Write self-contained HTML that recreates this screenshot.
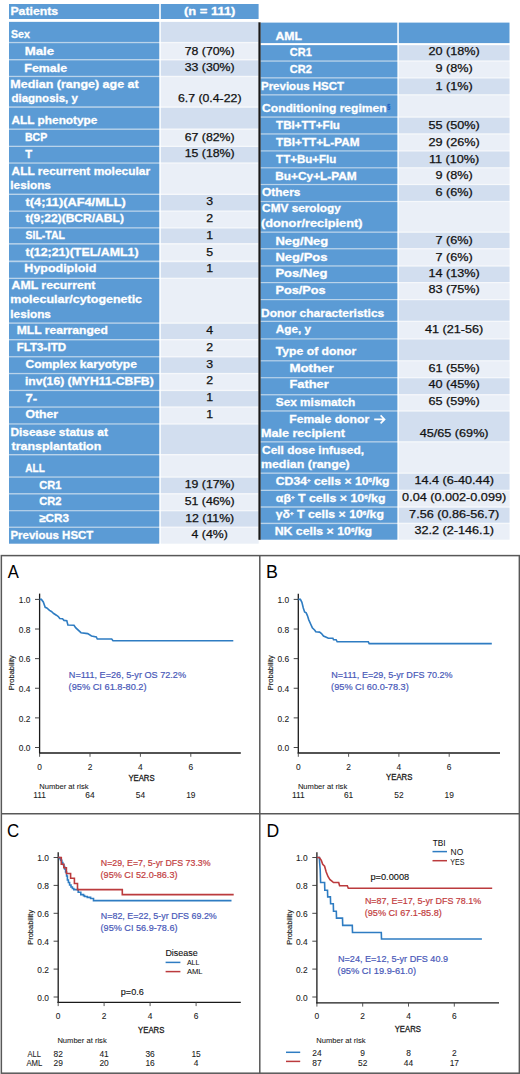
<!DOCTYPE html>
<html><head><meta charset="utf-8"><title>Table and Kaplan-Meier curves</title>
<style>html,body{margin:0;padding:0;background:#fff;}svg{display:block;}text{font-family:"Liberation Sans",sans-serif;}</style>
</head><body>
<svg width="520" height="1074" viewBox="0 0 520 1074">
<rect x="0" y="0" width="520" height="1074" fill="#fff"/>
<rect x="9" y="21.9" width="150.2" height="521.7" fill="#B9D3EA"/>
<rect x="160.8" y="21.9" width="97.8" height="521.7" fill="#F6F8FB"/>
<rect x="9" y="4" width="150.2" height="15" fill="#5B9BD5"/>
<rect x="160.8" y="4" width="97.8" height="15" fill="#5B9BD5"/>
<text x="10.4" y="14.9" font-size="11.2" font-weight="bold" fill="#fff" stroke="#fff" stroke-width="0.3" textLength="47.78" lengthAdjust="spacingAndGlyphs">Patients</text>
<text x="183.95" y="14.9" font-size="11.2" font-weight="bold" fill="#fff" stroke="#fff" stroke-width="0.3" textLength="51.5" lengthAdjust="spacingAndGlyphs">(n = 111)</text>
<rect x="9" y="21.9" width="150.2" height="20.0" fill="#5B9BD5"/>
<rect x="160.8" y="21.9" width="97.8" height="20.0" fill="#D2DEEF"/>
<text x="10.9" y="37.9" font-size="11.2" font-weight="bold" fill="#fff" stroke="#fff" stroke-width="0.3" textLength="18.91" lengthAdjust="spacingAndGlyphs">Sex</text>
<rect x="9" y="43.2" width="150.2" height="15.8" fill="#5B9BD5"/>
<rect x="160.8" y="43.2" width="97.8" height="15.8" fill="#EAEFF7"/>
<text x="24.67" y="54.6" font-size="11.2" font-weight="bold" fill="#fff" stroke="#fff" stroke-width="0.3" textLength="29.38" lengthAdjust="spacingAndGlyphs">Male</text>
<text x="184.75" y="54.5" font-size="11.0" fill="#111" stroke="#111" stroke-width="0.25" textLength="49.91" lengthAdjust="spacingAndGlyphs">78 (70%)</text>
<rect x="9" y="60.4" width="150.2" height="15.4" fill="#5B9BD5"/>
<rect x="160.8" y="60.4" width="97.8" height="15.4" fill="#D2DEEF"/>
<text x="24.39" y="71.5" font-size="11.2" font-weight="bold" fill="#fff" stroke="#fff" stroke-width="0.3" textLength="42.73" lengthAdjust="spacingAndGlyphs">Female</text>
<text x="184.75" y="71.1" font-size="11.0" fill="#111" stroke="#111" stroke-width="0.25" textLength="49.91" lengthAdjust="spacingAndGlyphs">33 (30%)</text>
<rect x="9" y="77.1" width="150.2" height="29.2" fill="#5B9BD5"/>
<rect x="160.8" y="77.1" width="97.8" height="29.2" fill="#EAEFF7"/>
<text x="10.38" y="87.6" font-size="11.2" font-weight="bold" fill="#fff" stroke="#fff" stroke-width="0.3" textLength="128.33" lengthAdjust="spacingAndGlyphs">Median (range) age at</text>
<text x="11.5" y="101.6" font-size="11.2" font-weight="bold" fill="#fff" stroke="#fff" stroke-width="0.3" textLength="66.35" lengthAdjust="spacingAndGlyphs">diagnosis, y</text>
<text x="177.91" y="101.6" font-size="11.0" fill="#111" stroke="#111" stroke-width="0.25" textLength="63.59" lengthAdjust="spacingAndGlyphs">6.7 (0.4-22)</text>
<rect x="9" y="107.8" width="150.2" height="20.7" fill="#5B9BD5"/>
<rect x="160.8" y="107.8" width="97.8" height="20.7" fill="#D2DEEF"/>
<text x="11.5" y="123.6" font-size="11.2" font-weight="bold" fill="#fff" stroke="#fff" stroke-width="0.3" textLength="85.93" lengthAdjust="spacingAndGlyphs">ALL phenotype</text>
<rect x="9" y="129.9" width="150.2" height="15.8" fill="#5B9BD5"/>
<rect x="160.8" y="129.9" width="97.8" height="15.8" fill="#EAEFF7"/>
<text x="24.96" y="140.8" font-size="11.2" font-weight="bold" fill="#fff" stroke="#fff" stroke-width="0.3" textLength="22.29" lengthAdjust="spacingAndGlyphs">BCP</text>
<text x="184.75" y="140.7" font-size="11.0" fill="#111" stroke="#111" stroke-width="0.25" textLength="49.91" lengthAdjust="spacingAndGlyphs">67 (82%)</text>
<rect x="9" y="147.0" width="150.2" height="15.4" fill="#5B9BD5"/>
<rect x="160.8" y="147.0" width="97.8" height="15.4" fill="#D2DEEF"/>
<text x="25.2" y="157.7" font-size="11.2" font-weight="bold" fill="#fff" stroke="#fff" stroke-width="0.3" textLength="6.94" lengthAdjust="spacingAndGlyphs">T</text>
<text x="184.75" y="157.4" font-size="11.0" fill="#111" stroke="#111" stroke-width="0.25" textLength="49.91" lengthAdjust="spacingAndGlyphs">15 (18%)</text>
<rect x="9" y="163.7" width="150.2" height="29.9" fill="#5B9BD5"/>
<rect x="160.8" y="163.7" width="97.8" height="29.9" fill="#EAEFF7"/>
<text x="11.5" y="174.5" font-size="11.2" font-weight="bold" fill="#fff" stroke="#fff" stroke-width="0.3" textLength="138.62" lengthAdjust="spacingAndGlyphs">ALL recurrent molecular</text>
<text x="10.35" y="188.6" font-size="11.2" font-weight="bold" fill="#fff" stroke="#fff" stroke-width="0.3" textLength="40.54" lengthAdjust="spacingAndGlyphs">lesions</text>
<rect x="9" y="195.0" width="150.2" height="15.5" fill="#5B9BD5"/>
<rect x="160.8" y="195.0" width="97.8" height="15.5" fill="#D2DEEF"/>
<text x="25.5" y="205.8" font-size="11.2" font-weight="bold" fill="#fff" stroke="#fff" stroke-width="0.3" textLength="100.23" lengthAdjust="spacingAndGlyphs">t(4;11)(AF4/MLL)</text>
<text x="206.28" y="205.4" font-size="11.0" fill="#111" stroke="#111" stroke-width="0.25" textLength="6.85" lengthAdjust="spacingAndGlyphs">3</text>
<rect x="9" y="211.8" width="150.2" height="15.4" fill="#5B9BD5"/>
<rect x="160.8" y="211.8" width="97.8" height="15.4" fill="#EAEFF7"/>
<text x="25.5" y="222.0" font-size="11.2" font-weight="bold" fill="#fff" stroke="#fff" stroke-width="0.3" textLength="98.39" lengthAdjust="spacingAndGlyphs">t(9;22)(BCR/ABL)</text>
<text x="206.28" y="221.6" font-size="11.0" fill="#111" stroke="#111" stroke-width="0.25" textLength="6.85" lengthAdjust="spacingAndGlyphs">2</text>
<rect x="9" y="228.5" width="150.2" height="14.6" fill="#5B9BD5"/>
<rect x="160.8" y="228.5" width="97.8" height="14.6" fill="#D2DEEF"/>
<text x="25.5" y="239.2" font-size="11.2" font-weight="bold" fill="#fff" stroke="#fff" stroke-width="0.3" textLength="39.54" lengthAdjust="spacingAndGlyphs">SIL-TAL</text>
<text x="206.28" y="238.8" font-size="11.0" fill="#111" stroke="#111" stroke-width="0.25" textLength="6.85" lengthAdjust="spacingAndGlyphs">1</text>
<rect x="9" y="244.6" width="150.2" height="15.9" fill="#5B9BD5"/>
<rect x="160.8" y="244.6" width="97.8" height="15.9" fill="#EAEFF7"/>
<text x="25.5" y="256.1" font-size="11.2" font-weight="bold" fill="#fff" stroke="#fff" stroke-width="0.3" textLength="113.13" lengthAdjust="spacingAndGlyphs">t(12;21)(TEL/AML1)</text>
<text x="206.28" y="255.7" font-size="11.0" fill="#111" stroke="#111" stroke-width="0.25" textLength="6.85" lengthAdjust="spacingAndGlyphs">5</text>
<rect x="9" y="262.2" width="150.2" height="15.5" fill="#5B9BD5"/>
<rect x="160.8" y="262.2" width="97.8" height="15.5" fill="#D2DEEF"/>
<text x="24.39" y="272.3" font-size="11.2" font-weight="bold" fill="#fff" stroke="#fff" stroke-width="0.3" textLength="72.03" lengthAdjust="spacingAndGlyphs">Hypodiploid</text>
<text x="206.28" y="271.9" font-size="11.0" fill="#111" stroke="#111" stroke-width="0.25" textLength="6.85" lengthAdjust="spacingAndGlyphs">1</text>
<rect x="9" y="279.0" width="150.2" height="43.4" fill="#5B9BD5"/>
<rect x="160.8" y="279.0" width="97.8" height="43.4" fill="#EAEFF7"/>
<text x="11.5" y="289.0" font-size="11.2" font-weight="bold" fill="#fff" stroke="#fff" stroke-width="0.3" textLength="83.89" lengthAdjust="spacingAndGlyphs">AML recurrent</text>
<text x="10.39" y="303.1" font-size="11.2" font-weight="bold" fill="#fff" stroke="#fff" stroke-width="0.3" textLength="131.67" lengthAdjust="spacingAndGlyphs">molecular/cytogenetic</text>
<text x="10.35" y="317.5" font-size="11.2" font-weight="bold" fill="#fff" stroke="#fff" stroke-width="0.3" textLength="40.54" lengthAdjust="spacingAndGlyphs">lesions</text>
<rect x="9" y="323.8" width="150.2" height="15.2" fill="#5B9BD5"/>
<rect x="160.8" y="323.8" width="97.8" height="15.2" fill="#D2DEEF"/>
<text x="16.72" y="334.0" font-size="11.2" font-weight="bold" fill="#fff" stroke="#fff" stroke-width="0.3" textLength="91.25" lengthAdjust="spacingAndGlyphs">MLL rearranged</text>
<text x="206.28" y="333.6" font-size="11.0" fill="#111" stroke="#111" stroke-width="0.25" textLength="6.85" lengthAdjust="spacingAndGlyphs">4</text>
<rect x="9" y="340.4" width="150.2" height="15.7" fill="#5B9BD5"/>
<rect x="160.8" y="340.4" width="97.8" height="15.7" fill="#EAEFF7"/>
<text x="16.77" y="350.9" font-size="11.2" font-weight="bold" fill="#fff" stroke="#fff" stroke-width="0.3" textLength="49.3" lengthAdjust="spacingAndGlyphs">FLT3-ITD</text>
<text x="206.28" y="350.5" font-size="11.0" fill="#111" stroke="#111" stroke-width="0.25" textLength="6.85" lengthAdjust="spacingAndGlyphs">2</text>
<rect x="9" y="357.4" width="150.2" height="15.5" fill="#5B9BD5"/>
<rect x="160.8" y="357.4" width="97.8" height="15.5" fill="#D2DEEF"/>
<text x="25.5" y="367.9" font-size="11.2" font-weight="bold" fill="#fff" stroke="#fff" stroke-width="0.3" textLength="111.44" lengthAdjust="spacingAndGlyphs">Complex karyotype</text>
<text x="206.28" y="367.5" font-size="11.0" fill="#111" stroke="#111" stroke-width="0.25" textLength="6.85" lengthAdjust="spacingAndGlyphs">3</text>
<rect x="9" y="374.2" width="150.2" height="15.6" fill="#5B9BD5"/>
<rect x="160.8" y="374.2" width="97.8" height="15.6" fill="#EAEFF7"/>
<text x="24.91" y="384.7" font-size="11.2" font-weight="bold" fill="#fff" stroke="#fff" stroke-width="0.3" textLength="128.81" lengthAdjust="spacingAndGlyphs">inv(16) (MYH11-CBFB)</text>
<text x="206.28" y="384.3" font-size="11.0" fill="#111" stroke="#111" stroke-width="0.25" textLength="6.85" lengthAdjust="spacingAndGlyphs">2</text>
<rect x="9" y="391.1" width="150.2" height="15.3" fill="#5B9BD5"/>
<rect x="160.8" y="391.1" width="97.8" height="15.3" fill="#D2DEEF"/>
<text x="25.5" y="401.6" font-size="11.2" font-weight="bold" fill="#fff" stroke="#fff" stroke-width="0.3" textLength="11.65" lengthAdjust="spacingAndGlyphs">7-</text>
<text x="206.28" y="401.2" font-size="11.0" fill="#111" stroke="#111" stroke-width="0.25" textLength="6.85" lengthAdjust="spacingAndGlyphs">1</text>
<rect x="9" y="407.7" width="150.2" height="15.6" fill="#5B9BD5"/>
<rect x="160.8" y="407.7" width="97.8" height="15.6" fill="#EAEFF7"/>
<text x="25.5" y="418.3" font-size="11.2" font-weight="bold" fill="#fff" stroke="#fff" stroke-width="0.3" textLength="32.63" lengthAdjust="spacingAndGlyphs">Other</text>
<text x="206.28" y="417.9" font-size="11.0" fill="#111" stroke="#111" stroke-width="0.25" textLength="6.85" lengthAdjust="spacingAndGlyphs">1</text>
<rect x="9" y="424.6" width="150.2" height="29.4" fill="#5B9BD5"/>
<rect x="160.8" y="424.6" width="97.8" height="29.4" fill="#D2DEEF"/>
<text x="10.43" y="435.6" font-size="11.2" font-weight="bold" fill="#fff" stroke="#fff" stroke-width="0.3" textLength="97.45" lengthAdjust="spacingAndGlyphs">Disease status at</text>
<text x="11.5" y="449.6" font-size="11.2" font-weight="bold" fill="#fff" stroke="#fff" stroke-width="0.3" textLength="89.8" lengthAdjust="spacingAndGlyphs">transplantation</text>
<rect x="9" y="455.4" width="150.2" height="21.0" fill="#5B9BD5"/>
<rect x="160.8" y="455.4" width="97.8" height="21.0" fill="#EAEFF7"/>
<text x="25.3" y="471.6" font-size="11.2" font-weight="bold" fill="#fff" stroke="#fff" stroke-width="0.3" textLength="19.48" lengthAdjust="spacingAndGlyphs">ALL</text>
<rect x="9" y="477.7" width="150.2" height="15.4" fill="#5B9BD5"/>
<rect x="160.8" y="477.7" width="97.8" height="15.4" fill="#D2DEEF"/>
<text x="39.2" y="488.5" font-size="11.2" font-weight="bold" fill="#fff" stroke="#fff" stroke-width="0.3" textLength="22.29" lengthAdjust="spacingAndGlyphs">CR1</text>
<text x="184.75" y="488.1" font-size="11.0" fill="#111" stroke="#111" stroke-width="0.25" textLength="49.91" lengthAdjust="spacingAndGlyphs">19 (17%)</text>
<rect x="9" y="494.5" width="150.2" height="15.6" fill="#5B9BD5"/>
<rect x="160.8" y="494.5" width="97.8" height="15.6" fill="#EAEFF7"/>
<text x="39.2" y="505.3" font-size="11.2" font-weight="bold" fill="#fff" stroke="#fff" stroke-width="0.3" textLength="22.29" lengthAdjust="spacingAndGlyphs">CR2</text>
<text x="184.75" y="504.9" font-size="11.0" fill="#111" stroke="#111" stroke-width="0.25" textLength="49.91" lengthAdjust="spacingAndGlyphs">51 (46%)</text>
<rect x="9" y="511.3" width="150.2" height="15.3" fill="#5B9BD5"/>
<rect x="160.8" y="511.3" width="97.8" height="15.3" fill="#D2DEEF"/>
<text x="39.2" y="522.2" font-size="11.2" font-weight="bold" fill="#fff" stroke="#fff" stroke-width="0.3" textLength="29.86" lengthAdjust="spacingAndGlyphs">≥CR3</text>
<text x="185.2" y="521.8" font-size="11.0" fill="#111" stroke="#111" stroke-width="0.25" textLength="49.0" lengthAdjust="spacingAndGlyphs">12 (11%)</text>
<rect x="9" y="527.9" width="150.2" height="15.7" fill="#5B9BD5"/>
<rect x="160.8" y="527.9" width="97.8" height="15.7" fill="#EAEFF7"/>
<text x="10.48" y="538.8" font-size="11.2" font-weight="bold" fill="#fff" stroke="#fff" stroke-width="0.3" textLength="82.85" lengthAdjust="spacingAndGlyphs">Previous HSCT</text>
<text x="191.59" y="538.4" font-size="11.0" fill="#111" stroke="#111" stroke-width="0.25" textLength="36.23" lengthAdjust="spacingAndGlyphs">4 (4%)</text>
<rect x="260.5" y="45.2" width="136.8" height="494.4" fill="#B9D3EA"/>
<rect x="398.8" y="45.2" width="110.7" height="494.4" fill="#F6F8FB"/>
<rect x="260.5" y="22.6" width="136.8" height="20.5" fill="#5B9BD5"/>
<rect x="398.8" y="22.6" width="110.7" height="20.5" fill="#5B9BD5"/>
<text x="275.5" y="39.8" font-size="11.2" font-weight="bold" fill="#fff" stroke="#fff" stroke-width="0.3" textLength="26.46" lengthAdjust="spacingAndGlyphs">AML</text>
<rect x="260.5" y="45.2" width="136.8" height="15.2" fill="#5B9BD5"/>
<rect x="398.8" y="45.2" width="110.7" height="15.2" fill="#D2DEEF"/>
<text x="289.8" y="55.6" font-size="11.2" font-weight="bold" fill="#fff" stroke="#fff" stroke-width="0.3" textLength="21.98" lengthAdjust="spacingAndGlyphs">CR1</text>
<text x="428.48" y="55.4" font-size="11.0" fill="#111" stroke="#111" stroke-width="0.25" textLength="51.34" lengthAdjust="spacingAndGlyphs">20 (18%)</text>
<rect x="260.5" y="61.7" width="136.8" height="15.5" fill="#5B9BD5"/>
<rect x="398.8" y="61.7" width="110.7" height="15.5" fill="#EAEFF7"/>
<text x="289.8" y="72.5" font-size="11.2" font-weight="bold" fill="#fff" stroke="#fff" stroke-width="0.3" textLength="21.98" lengthAdjust="spacingAndGlyphs">CR2</text>
<text x="435.51" y="72.4" font-size="11.0" fill="#111" stroke="#111" stroke-width="0.25" textLength="37.27" lengthAdjust="spacingAndGlyphs">9 (8%)</text>
<rect x="260.5" y="78.5" width="136.8" height="15.7" fill="#5B9BD5"/>
<rect x="398.8" y="78.5" width="110.7" height="15.7" fill="#D2DEEF"/>
<text x="260.97" y="90.0" font-size="11.2" font-weight="bold" fill="#fff" stroke="#fff" stroke-width="0.3" textLength="83.15" lengthAdjust="spacingAndGlyphs">Previous HSCT</text>
<text x="435.51" y="89.8" font-size="11.0" fill="#111" stroke="#111" stroke-width="0.25" textLength="37.27" lengthAdjust="spacingAndGlyphs">1 (1%)</text>
<rect x="260.5" y="95.5" width="136.8" height="20.9" fill="#5B9BD5"/>
<rect x="398.8" y="95.5" width="110.7" height="20.9" fill="#EAEFF7"/>
<text x="262.1" y="112.3" font-size="11.2" font-weight="bold" fill="#fff" stroke="#fff" stroke-width="0.3" textLength="124.46" lengthAdjust="spacingAndGlyphs">Conditioning regimen</text>
<rect x="260.5" y="117.7" width="136.8" height="15.6" fill="#5B9BD5"/>
<rect x="398.8" y="117.7" width="110.7" height="15.6" fill="#D2DEEF"/>
<text x="276.1" y="128.8" font-size="11.2" font-weight="bold" fill="#fff" stroke="#fff" stroke-width="0.3" textLength="63.85" lengthAdjust="spacingAndGlyphs">TBI+TT+Flu</text>
<text x="428.48" y="128.6" font-size="11.0" fill="#111" stroke="#111" stroke-width="0.25" textLength="51.34" lengthAdjust="spacingAndGlyphs">55 (50%)</text>
<rect x="260.5" y="134.6" width="136.8" height="15.7" fill="#5B9BD5"/>
<rect x="398.8" y="134.6" width="110.7" height="15.7" fill="#EAEFF7"/>
<text x="276.1" y="145.9" font-size="11.2" font-weight="bold" fill="#fff" stroke="#fff" stroke-width="0.3" textLength="83.38" lengthAdjust="spacingAndGlyphs">TBI+TT+L-PAM</text>
<text x="428.48" y="145.7" font-size="11.0" fill="#111" stroke="#111" stroke-width="0.25" textLength="51.34" lengthAdjust="spacingAndGlyphs">29 (26%)</text>
<rect x="260.5" y="151.5" width="136.8" height="15.7" fill="#5B9BD5"/>
<rect x="398.8" y="151.5" width="110.7" height="15.7" fill="#D2DEEF"/>
<text x="276.1" y="162.8" font-size="11.2" font-weight="bold" fill="#fff" stroke="#fff" stroke-width="0.3" textLength="60.25" lengthAdjust="spacingAndGlyphs">TT+Bu+Flu</text>
<text x="428.95" y="162.6" font-size="11.0" fill="#111" stroke="#111" stroke-width="0.25" textLength="50.4" lengthAdjust="spacingAndGlyphs">11 (10%)</text>
<rect x="260.5" y="168.4" width="136.8" height="15.5" fill="#5B9BD5"/>
<rect x="398.8" y="168.4" width="110.7" height="15.5" fill="#EAEFF7"/>
<text x="275.24" y="179.7" font-size="11.2" font-weight="bold" fill="#fff" stroke="#fff" stroke-width="0.3" textLength="81.49" lengthAdjust="spacingAndGlyphs">Bu+Cy+L-PAM</text>
<text x="435.51" y="179.3" font-size="11.0" fill="#111" stroke="#111" stroke-width="0.25" textLength="37.27" lengthAdjust="spacingAndGlyphs">9 (8%)</text>
<rect x="260.5" y="185.1" width="136.8" height="15.8" fill="#5B9BD5"/>
<rect x="398.8" y="185.1" width="110.7" height="15.8" fill="#D2DEEF"/>
<text x="262.1" y="196.4" font-size="11.2" font-weight="bold" fill="#fff" stroke="#fff" stroke-width="0.3" textLength="38.27" lengthAdjust="spacingAndGlyphs">Others</text>
<text x="435.51" y="196.0" font-size="11.0" fill="#111" stroke="#111" stroke-width="0.25" textLength="37.27" lengthAdjust="spacingAndGlyphs">6 (6%)</text>
<rect x="260.5" y="202.1" width="136.8" height="29.4" fill="#5B9BD5"/>
<rect x="398.8" y="202.1" width="110.7" height="29.4" fill="#EAEFF7"/>
<text x="262.1" y="212.3" font-size="11.2" font-weight="bold" fill="#fff" stroke="#fff" stroke-width="0.3" textLength="78.79" lengthAdjust="spacingAndGlyphs">CMV serology</text>
<text x="260.96" y="226.9" font-size="11.2" font-weight="bold" fill="#fff" stroke="#fff" stroke-width="0.3" textLength="101.52" lengthAdjust="spacingAndGlyphs">(donor/recipient)</text>
<rect x="260.5" y="232.8" width="136.8" height="15.3" fill="#5B9BD5"/>
<rect x="398.8" y="232.8" width="110.7" height="15.3" fill="#D2DEEF"/>
<text x="275.43" y="244.6" font-size="11.2" font-weight="bold" fill="#fff" stroke="#fff" stroke-width="0.3" textLength="52.92" lengthAdjust="spacingAndGlyphs">Neg/Neg</text>
<text x="435.51" y="244.2" font-size="11.0" fill="#111" stroke="#111" stroke-width="0.25" textLength="37.27" lengthAdjust="spacingAndGlyphs">7 (6%)</text>
<rect x="260.5" y="249.4" width="136.8" height="15.9" fill="#5B9BD5"/>
<rect x="398.8" y="249.4" width="110.7" height="15.9" fill="#EAEFF7"/>
<text x="275.43" y="261.0" font-size="11.2" font-weight="bold" fill="#fff" stroke="#fff" stroke-width="0.3" textLength="52.16" lengthAdjust="spacingAndGlyphs">Neg/Pos</text>
<text x="435.51" y="260.6" font-size="11.0" fill="#111" stroke="#111" stroke-width="0.25" textLength="37.27" lengthAdjust="spacingAndGlyphs">7 (6%)</text>
<rect x="260.5" y="266.6" width="136.8" height="15.4" fill="#5B9BD5"/>
<rect x="398.8" y="266.6" width="110.7" height="15.4" fill="#D2DEEF"/>
<text x="275.43" y="277.4" font-size="11.2" font-weight="bold" fill="#fff" stroke="#fff" stroke-width="0.3" textLength="52.16" lengthAdjust="spacingAndGlyphs">Pos/Neg</text>
<text x="428.48" y="277.0" font-size="11.0" fill="#111" stroke="#111" stroke-width="0.25" textLength="51.34" lengthAdjust="spacingAndGlyphs">14 (13%)</text>
<rect x="260.5" y="283.2" width="136.8" height="15.8" fill="#5B9BD5"/>
<rect x="398.8" y="283.2" width="110.7" height="15.8" fill="#EAEFF7"/>
<text x="275.46" y="293.8" font-size="11.2" font-weight="bold" fill="#fff" stroke="#fff" stroke-width="0.3" textLength="50.21" lengthAdjust="spacingAndGlyphs">Pos/Pos</text>
<text x="428.48" y="293.4" font-size="11.0" fill="#111" stroke="#111" stroke-width="0.25" textLength="51.34" lengthAdjust="spacingAndGlyphs">83 (75%)</text>
<rect x="260.5" y="300.2" width="136.8" height="20.5" fill="#5B9BD5"/>
<rect x="398.8" y="300.2" width="110.7" height="20.5" fill="#D2DEEF"/>
<text x="261.03" y="316.7" font-size="11.2" font-weight="bold" fill="#fff" stroke="#fff" stroke-width="0.3" textLength="123.2" lengthAdjust="spacingAndGlyphs">Donor characteristics</text>
<rect x="260.5" y="322.0" width="136.8" height="16.3" fill="#5B9BD5"/>
<rect x="398.8" y="322.0" width="110.7" height="16.3" fill="#EAEFF7"/>
<text x="275.8" y="333.1" font-size="11.2" font-weight="bold" fill="#fff" stroke="#fff" stroke-width="0.3" textLength="35.31" lengthAdjust="spacingAndGlyphs">Age, y</text>
<text x="424.96" y="332.9" font-size="11.0" fill="#111" stroke="#111" stroke-width="0.25" textLength="58.38" lengthAdjust="spacingAndGlyphs">41 (21-56)</text>
<rect x="260.5" y="339.5" width="136.8" height="20.7" fill="#5B9BD5"/>
<rect x="398.8" y="339.5" width="110.7" height="20.7" fill="#D2DEEF"/>
<text x="275.8" y="355.0" font-size="11.2" font-weight="bold" fill="#fff" stroke="#fff" stroke-width="0.3" textLength="80.33" lengthAdjust="spacingAndGlyphs">Type of donor</text>
<rect x="260.5" y="361.4" width="136.8" height="15.7" fill="#5B9BD5"/>
<rect x="398.8" y="361.4" width="110.7" height="15.7" fill="#EAEFF7"/>
<text x="289.41" y="372.0" font-size="11.2" font-weight="bold" fill="#fff" stroke="#fff" stroke-width="0.3" textLength="44.24" lengthAdjust="spacingAndGlyphs">Mother</text>
<text x="428.48" y="371.6" font-size="11.0" fill="#111" stroke="#111" stroke-width="0.25" textLength="51.34" lengthAdjust="spacingAndGlyphs">61 (55%)</text>
<rect x="260.5" y="378.3" width="136.8" height="15.8" fill="#5B9BD5"/>
<rect x="398.8" y="378.3" width="110.7" height="15.8" fill="#D2DEEF"/>
<text x="289.45" y="388.4" font-size="11.2" font-weight="bold" fill="#fff" stroke="#fff" stroke-width="0.3" textLength="39.28" lengthAdjust="spacingAndGlyphs">Father</text>
<text x="428.48" y="388.0" font-size="11.0" fill="#111" stroke="#111" stroke-width="0.25" textLength="51.34" lengthAdjust="spacingAndGlyphs">40 (45%)</text>
<rect x="260.5" y="395.4" width="136.8" height="14.9" fill="#5B9BD5"/>
<rect x="398.8" y="395.4" width="110.7" height="14.9" fill="#EAEFF7"/>
<text x="275.8" y="405.5" font-size="11.2" font-weight="bold" fill="#fff" stroke="#fff" stroke-width="0.3" textLength="79.46" lengthAdjust="spacingAndGlyphs">Sex mismatch</text>
<text x="428.48" y="405.1" font-size="11.0" fill="#111" stroke="#111" stroke-width="0.25" textLength="51.34" lengthAdjust="spacingAndGlyphs">65 (59%)</text>
<rect x="260.5" y="411.6" width="136.8" height="29.6" fill="#5B9BD5"/>
<rect x="398.8" y="411.6" width="110.7" height="29.6" fill="#D2DEEF"/>
<text x="289.31" y="423.2" font-size="11.2" font-weight="bold" fill="#fff" stroke="#fff" stroke-width="0.3" textLength="79.88" lengthAdjust="spacingAndGlyphs">Female donor</text>
<text x="260.97" y="437.4" font-size="11.2" font-weight="bold" fill="#fff" stroke="#fff" stroke-width="0.3" textLength="83.99" lengthAdjust="spacingAndGlyphs">Male recipient</text>
<text x="419.68" y="437.0" font-size="11.0" fill="#111" stroke="#111" stroke-width="0.25" textLength="68.93" lengthAdjust="spacingAndGlyphs">45/65 (69%)</text>
<rect x="260.5" y="442.5" width="136.8" height="30.0" fill="#5B9BD5"/>
<rect x="398.8" y="442.5" width="110.7" height="30.0" fill="#EAEFF7"/>
<text x="262.1" y="453.8" font-size="11.2" font-weight="bold" fill="#fff" stroke="#fff" stroke-width="0.3" textLength="101.88" lengthAdjust="spacingAndGlyphs">Cell dose infused,</text>
<text x="260.99" y="467.7" font-size="11.2" font-weight="bold" fill="#fff" stroke="#fff" stroke-width="0.3" textLength="88.73" lengthAdjust="spacingAndGlyphs">median (range)</text>
<rect x="260.5" y="473.8" width="136.8" height="15.9" fill="#5B9BD5"/>
<rect x="398.8" y="473.8" width="110.7" height="15.9" fill="#D2DEEF"/>
<text x="275.8" y="484.6" font-size="11.2" font-weight="bold" fill="#fff" stroke="#fff" stroke-width="0.3" textLength="113.71" lengthAdjust="spacingAndGlyphs">CD34<tspan font-size="5.6" dy="-3.0">+</tspan><tspan dy="3.0"> cells × 10</tspan><tspan font-size="5.6" dy="-3.0">6</tspan><tspan dy="3.0">/kg</tspan></text>
<text x="414.41" y="484.4" font-size="11.0" fill="#111" stroke="#111" stroke-width="0.25" textLength="79.48" lengthAdjust="spacingAndGlyphs">14.4 (6-40.44)</text>
<rect x="260.5" y="491.0" width="136.8" height="15.3" fill="#5B9BD5"/>
<rect x="398.8" y="491.0" width="110.7" height="15.3" fill="#EAEFF7"/>
<text x="275.8" y="501.6" font-size="11.2" font-weight="bold" fill="#fff" stroke="#fff" stroke-width="0.3" textLength="109.68" lengthAdjust="spacingAndGlyphs">αβ<tspan font-size="5.6" dy="-3.0">+</tspan><tspan dy="3.0"> T cells × 10</tspan><tspan font-size="5.6" dy="-3.0">6</tspan><tspan dy="3.0">/kg</tspan></text>
<text x="402.1" y="501.3" font-size="11.0" fill="#111" stroke="#111" stroke-width="0.25" textLength="104.09" lengthAdjust="spacingAndGlyphs">0.04 (0.002-0.099)</text>
<rect x="260.5" y="507.7" width="136.8" height="15.0" fill="#5B9BD5"/>
<rect x="398.8" y="507.7" width="110.7" height="15.0" fill="#D2DEEF"/>
<text x="275.8" y="518.2" font-size="11.2" font-weight="bold" fill="#fff" stroke="#fff" stroke-width="0.3" textLength="108.1" lengthAdjust="spacingAndGlyphs">γδ<tspan font-size="5.6" dy="-3.0">+</tspan><tspan dy="3.0"> T cells × 10</tspan><tspan font-size="5.6" dy="-3.0">6</tspan><tspan dy="3.0">/kg</tspan></text>
<text x="409.14" y="517.9" font-size="11.0" fill="#111" stroke="#111" stroke-width="0.25" textLength="90.02" lengthAdjust="spacingAndGlyphs">7.56 (0.86-56.7)</text>
<rect x="260.5" y="524.1" width="136.8" height="15.5" fill="#5B9BD5"/>
<rect x="398.8" y="524.1" width="110.7" height="15.5" fill="#EAEFF7"/>
<text x="274.7" y="534.6" font-size="11.2" font-weight="bold" fill="#fff" stroke="#fff" stroke-width="0.3" textLength="97.4" lengthAdjust="spacingAndGlyphs">NK cells × 10<tspan font-size="5.6" dy="-3.0">6</tspan><tspan dy="3.0">/kg</tspan></text>
<text x="414.41" y="534.3" font-size="11.0" fill="#111" stroke="#111" stroke-width="0.25" textLength="79.48" lengthAdjust="spacingAndGlyphs">32.2 (2-146.1)</text>
<text x="387.0" y="108.8" font-size="8" fill="#2563C4" stroke="#2563C4" stroke-width="0.4" textLength="3.4" lengthAdjust="spacingAndGlyphs">§</text>
<rect x="258.4" y="22.3" width="2.2" height="517.5" fill="#1a1a1a"/>
<path d="M374.2 419.4 H384.6 M380.6 415.4 L384.6 419.4 L380.6 423.4" fill="none" stroke="#fff" stroke-width="1.6"/>
<rect x="1.35" y="555.6" width="518.0" height="517.6" fill="none" stroke="#585858" stroke-width="1.5"/>
<line x1="259.8" y1="555.6" x2="259.8" y2="1073.2" stroke="#585858" stroke-width="1.5"/>
<line x1="1.35" y1="813.7" x2="519.35" y2="813.7" stroke="#585858" stroke-width="1.5"/>
<line x1="39.6" y1="593.6" x2="39.6" y2="753.6" stroke="#1a1a1a" stroke-width="1.3"/>
<line x1="39.0" y1="753.0" x2="240.8" y2="753.0" stroke="#1a1a1a" stroke-width="1.3"/>
<line x1="35.0" y1="599.4" x2="39.6" y2="599.4" stroke="#333" stroke-width="0.9"/>
<text x="30.4" y="603.1" font-size="8.4" font-weight="normal" fill="#1a1a1a" text-anchor="end"  stroke="#1a1a1a" stroke-width="0.08">1.0</text>
<line x1="35.0" y1="629.02" x2="39.6" y2="629.02" stroke="#333" stroke-width="0.9"/>
<text x="30.4" y="632.72" font-size="8.4" font-weight="normal" fill="#1a1a1a" text-anchor="end"  stroke="#1a1a1a" stroke-width="0.08">0.8</text>
<line x1="35.0" y1="658.64" x2="39.6" y2="658.64" stroke="#333" stroke-width="0.9"/>
<text x="30.4" y="662.34" font-size="8.4" font-weight="normal" fill="#1a1a1a" text-anchor="end"  stroke="#1a1a1a" stroke-width="0.08">0.6</text>
<line x1="35.0" y1="688.26" x2="39.6" y2="688.26" stroke="#333" stroke-width="0.9"/>
<text x="30.4" y="691.96" font-size="8.4" font-weight="normal" fill="#1a1a1a" text-anchor="end"  stroke="#1a1a1a" stroke-width="0.08">0.4</text>
<line x1="35.0" y1="717.88" x2="39.6" y2="717.88" stroke="#333" stroke-width="0.9"/>
<text x="30.4" y="721.58" font-size="8.4" font-weight="normal" fill="#1a1a1a" text-anchor="end"  stroke="#1a1a1a" stroke-width="0.08">0.2</text>
<line x1="35.0" y1="747.5" x2="39.6" y2="747.5" stroke="#333" stroke-width="0.9"/>
<text x="30.4" y="751.2" font-size="8.4" font-weight="normal" fill="#1a1a1a" text-anchor="end"  stroke="#1a1a1a" stroke-width="0.08">0.0</text>
<line x1="39.6" y1="753.0" x2="39.6" y2="756.8" stroke="#444" stroke-width="0.9"/>
<text x="39.6" y="769.7" font-size="8.4" font-weight="normal" fill="#1a1a1a" text-anchor="middle"  stroke="#1a1a1a" stroke-width="0.08">0</text>
<line x1="90.0" y1="753.0" x2="90.0" y2="756.8" stroke="#444" stroke-width="0.9"/>
<text x="90.0" y="769.7" font-size="8.4" font-weight="normal" fill="#1a1a1a" text-anchor="middle"  stroke="#1a1a1a" stroke-width="0.08">2</text>
<line x1="140.4" y1="753.0" x2="140.4" y2="756.8" stroke="#444" stroke-width="0.9"/>
<text x="140.4" y="769.7" font-size="8.4" font-weight="normal" fill="#1a1a1a" text-anchor="middle"  stroke="#1a1a1a" stroke-width="0.08">4</text>
<line x1="190.8" y1="753.0" x2="190.8" y2="756.8" stroke="#444" stroke-width="0.9"/>
<text x="190.8" y="769.7" font-size="8.4" font-weight="normal" fill="#1a1a1a" text-anchor="middle"  stroke="#1a1a1a" stroke-width="0.08">6</text>
<text x="0" y="0" font-size="7.5" fill="#1a1a1a" stroke="#1a1a1a" stroke-width="0.15" text-anchor="middle" transform="translate(14.3,672.7) rotate(-90)">Probability</text>
<text x="141.5" y="781.3" font-size="8.8" font-weight="normal" fill="#1a1a1a" text-anchor="middle" textLength="26.2" lengthAdjust="spacingAndGlyphs" stroke="#1a1a1a" stroke-width="0.3">YEARS</text>
<text x="39.2" y="788.5" font-size="8.0" font-weight="normal" fill="#1a1a1a" text-anchor="start" textLength="49.3" lengthAdjust="spacingAndGlyphs" stroke="#1a1a1a" stroke-width="0.08">Number at risk</text>
<text x="39.6" y="797.6" font-size="8.4" font-weight="normal" fill="#1a1a1a" text-anchor="middle"  stroke="#1a1a1a" stroke-width="0.08">111</text>
<text x="90.0" y="797.6" font-size="8.4" font-weight="normal" fill="#1a1a1a" text-anchor="middle"  stroke="#1a1a1a" stroke-width="0.08">64</text>
<text x="140.4" y="797.6" font-size="8.4" font-weight="normal" fill="#1a1a1a" text-anchor="middle"  stroke="#1a1a1a" stroke-width="0.08">54</text>
<text x="190.8" y="797.6" font-size="8.4" font-weight="normal" fill="#1a1a1a" text-anchor="middle"  stroke="#1a1a1a" stroke-width="0.08">19</text>
<text x="7.7" y="578.4" font-size="18" font-weight="normal" fill="#000" text-anchor="start" textLength="11.1" lengthAdjust="spacingAndGlyphs">A</text>
<polyline points="39.6,599.4 41.4,599.4 43.3,601.9 45.2,607.3 46.8,608 49.5,610.4 51.4,611.5 53.7,613.5 56.4,615.2 58.3,616.5 59.8,618.5 62.5,618.8 64,620.4 66.8,620.8 67.9,625 74,625.2 75.6,627.7 81,632.7 87.7,633.6 91.5,636 96.3,637 97.3,639 111.7,639 113,640.7 233.3,640.7" fill="none" stroke="#2E7CC2" stroke-width="1.6" stroke-linejoin="miter" stroke-linecap="butt"/>
<text x="68.8" y="677.5" font-size="9.7" font-weight="normal" fill="#4858B8" text-anchor="start" textLength="117.2" lengthAdjust="spacingAndGlyphs" stroke="#4858B8" stroke-width="0.2">N=111, E=26, 5-yr OS 72.2%</text>
<text x="68.6" y="689.8" font-size="9.7" font-weight="normal" fill="#4858B8" text-anchor="start" textLength="78.0" lengthAdjust="spacingAndGlyphs" stroke="#4858B8" stroke-width="0.2">(95% CI 61.8-80.2)</text>
<line x1="298.3" y1="593.7" x2="298.3" y2="753.6" stroke="#1a1a1a" stroke-width="1.3"/>
<line x1="297.7" y1="753.0" x2="500.0" y2="753.0" stroke="#1a1a1a" stroke-width="1.3"/>
<line x1="293.7" y1="599.4" x2="298.3" y2="599.4" stroke="#333" stroke-width="0.9"/>
<text x="289.1" y="603.1" font-size="8.4" font-weight="normal" fill="#1a1a1a" text-anchor="end"  stroke="#1a1a1a" stroke-width="0.08">1.0</text>
<line x1="293.7" y1="629.02" x2="298.3" y2="629.02" stroke="#333" stroke-width="0.9"/>
<text x="289.1" y="632.72" font-size="8.4" font-weight="normal" fill="#1a1a1a" text-anchor="end"  stroke="#1a1a1a" stroke-width="0.08">0.8</text>
<line x1="293.7" y1="658.64" x2="298.3" y2="658.64" stroke="#333" stroke-width="0.9"/>
<text x="289.1" y="662.34" font-size="8.4" font-weight="normal" fill="#1a1a1a" text-anchor="end"  stroke="#1a1a1a" stroke-width="0.08">0.6</text>
<line x1="293.7" y1="688.26" x2="298.3" y2="688.26" stroke="#333" stroke-width="0.9"/>
<text x="289.1" y="691.96" font-size="8.4" font-weight="normal" fill="#1a1a1a" text-anchor="end"  stroke="#1a1a1a" stroke-width="0.08">0.4</text>
<line x1="293.7" y1="717.88" x2="298.3" y2="717.88" stroke="#333" stroke-width="0.9"/>
<text x="289.1" y="721.58" font-size="8.4" font-weight="normal" fill="#1a1a1a" text-anchor="end"  stroke="#1a1a1a" stroke-width="0.08">0.2</text>
<line x1="293.7" y1="747.5" x2="298.3" y2="747.5" stroke="#333" stroke-width="0.9"/>
<text x="289.1" y="751.2" font-size="8.4" font-weight="normal" fill="#1a1a1a" text-anchor="end"  stroke="#1a1a1a" stroke-width="0.08">0.0</text>
<line x1="298.3" y1="753.0" x2="298.3" y2="756.8" stroke="#444" stroke-width="0.9"/>
<text x="298.3" y="769.7" font-size="8.4" font-weight="normal" fill="#1a1a1a" text-anchor="middle"  stroke="#1a1a1a" stroke-width="0.08">0</text>
<line x1="348.6" y1="753.0" x2="348.6" y2="756.8" stroke="#444" stroke-width="0.9"/>
<text x="348.6" y="769.7" font-size="8.4" font-weight="normal" fill="#1a1a1a" text-anchor="middle"  stroke="#1a1a1a" stroke-width="0.08">2</text>
<line x1="398.9" y1="753.0" x2="398.9" y2="756.8" stroke="#444" stroke-width="0.9"/>
<text x="398.9" y="769.7" font-size="8.4" font-weight="normal" fill="#1a1a1a" text-anchor="middle"  stroke="#1a1a1a" stroke-width="0.08">4</text>
<line x1="449.2" y1="753.0" x2="449.2" y2="756.8" stroke="#444" stroke-width="0.9"/>
<text x="449.2" y="769.7" font-size="8.4" font-weight="normal" fill="#1a1a1a" text-anchor="middle"  stroke="#1a1a1a" stroke-width="0.08">6</text>
<text x="0" y="0" font-size="7.5" fill="#1a1a1a" stroke="#1a1a1a" stroke-width="0.15" text-anchor="middle" transform="translate(273.0,672.7) rotate(-90)">Probability</text>
<text x="399.2" y="780.4" font-size="8.8" font-weight="normal" fill="#1a1a1a" text-anchor="middle" textLength="26.2" lengthAdjust="spacingAndGlyphs" stroke="#1a1a1a" stroke-width="0.3">YEARS</text>
<text x="297.9" y="788.5" font-size="8.0" font-weight="normal" fill="#1a1a1a" text-anchor="start" textLength="49.3" lengthAdjust="spacingAndGlyphs" stroke="#1a1a1a" stroke-width="0.08">Number at risk</text>
<text x="298.3" y="797.6" font-size="8.4" font-weight="normal" fill="#1a1a1a" text-anchor="middle"  stroke="#1a1a1a" stroke-width="0.08">111</text>
<text x="348.6" y="797.6" font-size="8.4" font-weight="normal" fill="#1a1a1a" text-anchor="middle"  stroke="#1a1a1a" stroke-width="0.08">61</text>
<text x="398.9" y="797.6" font-size="8.4" font-weight="normal" fill="#1a1a1a" text-anchor="middle"  stroke="#1a1a1a" stroke-width="0.08">52</text>
<text x="449.2" y="797.6" font-size="8.4" font-weight="normal" fill="#1a1a1a" text-anchor="middle"  stroke="#1a1a1a" stroke-width="0.08">19</text>
<text x="266.0" y="578.2" font-size="18" font-weight="normal" fill="#000" text-anchor="start" textLength="11.9" lengthAdjust="spacingAndGlyphs">B</text>
<polyline points="298.3,599.4 300.4,599.4 301.9,602.3 303.3,608 304.6,612 306.2,612.9 307.5,615.8 308.7,619.6 310.4,623.5 312.3,627.7 314.8,630.2 315.8,631.7 319.6,632.1 321.5,633.5 323.5,636 326.3,637.3 328.3,638.3 332.9,638.3 333.5,639.7 336.1,639.7 337.2,641.8 368.3,641.8 369.2,643.6 491.8,643.6" fill="none" stroke="#2E7CC2" stroke-width="1.6" stroke-linejoin="miter" stroke-linecap="butt"/>
<text x="331.3" y="677.5" font-size="9.7" font-weight="normal" fill="#4858B8" text-anchor="start" textLength="121.3" lengthAdjust="spacingAndGlyphs" stroke="#4858B8" stroke-width="0.2">N=111, E=29, 5-yr DFS 70.2%</text>
<text x="331.1" y="689.9" font-size="9.7" font-weight="normal" fill="#4858B8" text-anchor="start" textLength="77.7" lengthAdjust="spacingAndGlyphs" stroke="#4858B8" stroke-width="0.2">(95% CI 60.0-78.3)</text>
<line x1="58.2" y1="852.3" x2="58.2" y2="1002.9" stroke="#1a1a1a" stroke-width="1.3"/>
<line x1="57.6" y1="1002.3" x2="240.8" y2="1002.3" stroke="#1a1a1a" stroke-width="1.3"/>
<line x1="53.6" y1="857.5" x2="58.2" y2="857.5" stroke="#333" stroke-width="0.9"/>
<text x="48.9" y="861.2" font-size="8.4" font-weight="normal" fill="#1a1a1a" text-anchor="end"  stroke="#1a1a1a" stroke-width="0.08">1.0</text>
<line x1="53.6" y1="885.4" x2="58.2" y2="885.4" stroke="#333" stroke-width="0.9"/>
<text x="48.9" y="889.1" font-size="8.4" font-weight="normal" fill="#1a1a1a" text-anchor="end"  stroke="#1a1a1a" stroke-width="0.08">0.8</text>
<line x1="53.6" y1="913.3" x2="58.2" y2="913.3" stroke="#333" stroke-width="0.9"/>
<text x="48.9" y="917.0" font-size="8.4" font-weight="normal" fill="#1a1a1a" text-anchor="end"  stroke="#1a1a1a" stroke-width="0.08">0.6</text>
<line x1="53.6" y1="941.2" x2="58.2" y2="941.2" stroke="#333" stroke-width="0.9"/>
<text x="48.9" y="944.9000000000001" font-size="8.4" font-weight="normal" fill="#1a1a1a" text-anchor="end"  stroke="#1a1a1a" stroke-width="0.08">0.4</text>
<line x1="53.6" y1="969.1" x2="58.2" y2="969.1" stroke="#333" stroke-width="0.9"/>
<text x="48.9" y="972.8000000000001" font-size="8.4" font-weight="normal" fill="#1a1a1a" text-anchor="end"  stroke="#1a1a1a" stroke-width="0.08">0.2</text>
<line x1="53.6" y1="997.0" x2="58.2" y2="997.0" stroke="#333" stroke-width="0.9"/>
<text x="48.9" y="1000.7" font-size="8.4" font-weight="normal" fill="#1a1a1a" text-anchor="end"  stroke="#1a1a1a" stroke-width="0.08">0.0</text>
<line x1="58.2" y1="1002.3" x2="58.2" y2="1006.0999999999999" stroke="#444" stroke-width="0.9"/>
<text x="58.2" y="1019.3" font-size="8.4" font-weight="normal" fill="#1a1a1a" text-anchor="middle"  stroke="#1a1a1a" stroke-width="0.08">0</text>
<line x1="104.1" y1="1002.3" x2="104.1" y2="1006.0999999999999" stroke="#444" stroke-width="0.9"/>
<text x="104.1" y="1019.3" font-size="8.4" font-weight="normal" fill="#1a1a1a" text-anchor="middle"  stroke="#1a1a1a" stroke-width="0.08">2</text>
<line x1="150.1" y1="1002.3" x2="150.1" y2="1006.0999999999999" stroke="#444" stroke-width="0.9"/>
<text x="150.1" y="1019.3" font-size="8.4" font-weight="normal" fill="#1a1a1a" text-anchor="middle"  stroke="#1a1a1a" stroke-width="0.08">4</text>
<line x1="196.1" y1="1002.3" x2="196.1" y2="1006.0999999999999" stroke="#444" stroke-width="0.9"/>
<text x="196.1" y="1019.3" font-size="8.4" font-weight="normal" fill="#1a1a1a" text-anchor="middle"  stroke="#1a1a1a" stroke-width="0.08">6</text>
<text x="0" y="0" font-size="7.5" fill="#1a1a1a" stroke="#1a1a1a" stroke-width="0.15" text-anchor="middle" transform="translate(33.0,927.3) rotate(-90)">Probability</text>
<text x="151.2" y="1032.9" font-size="8.8" font-weight="normal" fill="#1a1a1a" text-anchor="middle" textLength="26.2" lengthAdjust="spacingAndGlyphs" stroke="#1a1a1a" stroke-width="0.3">YEARS</text>
<text x="57.4" y="1042.9" font-size="8.0" font-weight="normal" fill="#1a1a1a" text-anchor="start" textLength="49.3" lengthAdjust="spacingAndGlyphs" stroke="#1a1a1a" stroke-width="0.08">Number at risk</text>
<text x="58.2" y="1056.6" font-size="8.4" font-weight="normal" fill="#1a1a1a" text-anchor="middle"  stroke="#1a1a1a" stroke-width="0.08">82</text>
<text x="104.1" y="1056.6" font-size="8.4" font-weight="normal" fill="#1a1a1a" text-anchor="middle"  stroke="#1a1a1a" stroke-width="0.08">41</text>
<text x="150.1" y="1056.6" font-size="8.4" font-weight="normal" fill="#1a1a1a" text-anchor="middle"  stroke="#1a1a1a" stroke-width="0.08">36</text>
<text x="196.1" y="1056.6" font-size="8.4" font-weight="normal" fill="#1a1a1a" text-anchor="middle"  stroke="#1a1a1a" stroke-width="0.08">15</text>
<text x="58.2" y="1065.9" font-size="8.4" font-weight="normal" fill="#1a1a1a" text-anchor="middle"  stroke="#1a1a1a" stroke-width="0.08">29</text>
<text x="104.1" y="1065.9" font-size="8.4" font-weight="normal" fill="#1a1a1a" text-anchor="middle"  stroke="#1a1a1a" stroke-width="0.08">20</text>
<text x="150.1" y="1065.9" font-size="8.4" font-weight="normal" fill="#1a1a1a" text-anchor="middle"  stroke="#1a1a1a" stroke-width="0.08">16</text>
<text x="196.1" y="1065.9" font-size="8.4" font-weight="normal" fill="#1a1a1a" text-anchor="middle"  stroke="#1a1a1a" stroke-width="0.08">4</text>
<text x="6.9" y="837.3" font-size="18" font-weight="normal" fill="#000" text-anchor="start" textLength="12.2" lengthAdjust="spacingAndGlyphs">C</text>
<polyline points="58.2,857.5 59.6,857.5 59.6,858.8 60.6,858.8 60.6,860.4 61.8,860.4 61.8,862.5 62.8,862.5 62.8,864.5 63.8,864.5 63.8,866.5 64.6,866.5 64.6,869 65.6,869 65.6,872 66.6,872 66.6,876 67.4,876 67.4,880 68.4,880 68.4,882.5 69.6,882.5 69.6,885 71,885 71,887 72.4,887 72.4,888.5 73.8,888.5 73.8,889.6 78.2,889.6 78.2,892.3 80.8,892.3 80.8,894.6 83.5,894.6 83.5,895.6 84.6,895.6 84.6,896.5 87.3,896.5 87.3,897.4 90.6,897.4 90.6,898.5 93.5,898.5 93.5,900.6 231.5,900.6" fill="none" stroke="#2E7CC2" stroke-width="1.6" stroke-linejoin="miter" stroke-linecap="butt"/>
<polyline points="58.2,857.5 61.3,857.5 61.3,864.2 63.8,864.2 63.8,867.7 66.4,867.7 66.4,873.5 70.6,873.5 70.6,878.3 74.4,878.3 74.4,883.5 77.5,883.5 77.5,889.6 122.3,889.6 122.3,894.6 233.7,894.6" fill="none" stroke="#BB3B3D" stroke-width="1.6" stroke-linejoin="miter" stroke-linecap="butt"/>
<text x="100.8" y="866.2" font-size="9.7" font-weight="normal" fill="#C23C3E" text-anchor="start" textLength="109.8" lengthAdjust="spacingAndGlyphs" stroke="#C23C3E" stroke-width="0.2">N=29, E=7, 5-yr DFS 73.3%</text>
<text x="100.6" y="878.1" font-size="9.7" font-weight="normal" fill="#C23C3E" text-anchor="start" textLength="76.9" lengthAdjust="spacingAndGlyphs" stroke="#C23C3E" stroke-width="0.2">(95% CI 52.0-86.3)</text>
<text x="100.8" y="918.7" font-size="9.7" font-weight="normal" fill="#4858B8" text-anchor="start" textLength="116.0" lengthAdjust="spacingAndGlyphs" stroke="#4858B8" stroke-width="0.2">N=82, E=22, 5-yr DFS 69.2%</text>
<text x="100.6" y="931.4" font-size="9.7" font-weight="normal" fill="#4858B8" text-anchor="start" textLength="76.9" lengthAdjust="spacingAndGlyphs" stroke="#4858B8" stroke-width="0.2">(95% CI 56.9-78.6)</text>
<line x1="316.9" y1="852.3" x2="316.9" y2="1003.4" stroke="#1a1a1a" stroke-width="1.3"/>
<line x1="316.29999999999995" y1="1002.8" x2="499.0" y2="1002.8" stroke="#1a1a1a" stroke-width="1.3"/>
<line x1="312.29999999999995" y1="857.5" x2="316.9" y2="857.5" stroke="#333" stroke-width="0.9"/>
<text x="307.6" y="861.2" font-size="8.4" font-weight="normal" fill="#1a1a1a" text-anchor="end"  stroke="#1a1a1a" stroke-width="0.08">1.0</text>
<line x1="312.29999999999995" y1="885.4" x2="316.9" y2="885.4" stroke="#333" stroke-width="0.9"/>
<text x="307.6" y="889.1" font-size="8.4" font-weight="normal" fill="#1a1a1a" text-anchor="end"  stroke="#1a1a1a" stroke-width="0.08">0.8</text>
<line x1="312.29999999999995" y1="913.3" x2="316.9" y2="913.3" stroke="#333" stroke-width="0.9"/>
<text x="307.6" y="917.0" font-size="8.4" font-weight="normal" fill="#1a1a1a" text-anchor="end"  stroke="#1a1a1a" stroke-width="0.08">0.6</text>
<line x1="312.29999999999995" y1="941.2" x2="316.9" y2="941.2" stroke="#333" stroke-width="0.9"/>
<text x="307.6" y="944.9000000000001" font-size="8.4" font-weight="normal" fill="#1a1a1a" text-anchor="end"  stroke="#1a1a1a" stroke-width="0.08">0.4</text>
<line x1="312.29999999999995" y1="969.1" x2="316.9" y2="969.1" stroke="#333" stroke-width="0.9"/>
<text x="307.6" y="972.8000000000001" font-size="8.4" font-weight="normal" fill="#1a1a1a" text-anchor="end"  stroke="#1a1a1a" stroke-width="0.08">0.2</text>
<line x1="312.29999999999995" y1="997.0" x2="316.9" y2="997.0" stroke="#333" stroke-width="0.9"/>
<text x="307.6" y="1000.7" font-size="8.4" font-weight="normal" fill="#1a1a1a" text-anchor="end"  stroke="#1a1a1a" stroke-width="0.08">0.0</text>
<line x1="316.9" y1="1002.8" x2="316.9" y2="1006.5999999999999" stroke="#444" stroke-width="0.9"/>
<text x="316.9" y="1019.2" font-size="8.4" font-weight="normal" fill="#1a1a1a" text-anchor="middle"  stroke="#1a1a1a" stroke-width="0.08">0</text>
<line x1="362.7" y1="1002.8" x2="362.7" y2="1006.5999999999999" stroke="#444" stroke-width="0.9"/>
<text x="362.7" y="1019.2" font-size="8.4" font-weight="normal" fill="#1a1a1a" text-anchor="middle"  stroke="#1a1a1a" stroke-width="0.08">2</text>
<line x1="408.5" y1="1002.8" x2="408.5" y2="1006.5999999999999" stroke="#444" stroke-width="0.9"/>
<text x="408.5" y="1019.2" font-size="8.4" font-weight="normal" fill="#1a1a1a" text-anchor="middle"  stroke="#1a1a1a" stroke-width="0.08">4</text>
<line x1="454.3" y1="1002.8" x2="454.3" y2="1006.5999999999999" stroke="#444" stroke-width="0.9"/>
<text x="454.3" y="1019.2" font-size="8.4" font-weight="normal" fill="#1a1a1a" text-anchor="middle"  stroke="#1a1a1a" stroke-width="0.08">6</text>
<text x="0" y="0" font-size="7.5" fill="#1a1a1a" stroke="#1a1a1a" stroke-width="0.15" text-anchor="middle" transform="translate(291.7,927.3) rotate(-90)">Probability</text>
<text x="407.8" y="1031.6" font-size="8.8" font-weight="normal" fill="#1a1a1a" text-anchor="middle" textLength="26.2" lengthAdjust="spacingAndGlyphs" stroke="#1a1a1a" stroke-width="0.3">YEARS</text>
<text x="316.3" y="1042.7" font-size="8.0" font-weight="normal" fill="#1a1a1a" text-anchor="start" textLength="49.3" lengthAdjust="spacingAndGlyphs" stroke="#1a1a1a" stroke-width="0.08">Number at risk</text>
<text x="316.9" y="1056.3" font-size="8.4" font-weight="normal" fill="#1a1a1a" text-anchor="middle"  stroke="#1a1a1a" stroke-width="0.08">24</text>
<text x="362.7" y="1056.3" font-size="8.4" font-weight="normal" fill="#1a1a1a" text-anchor="middle"  stroke="#1a1a1a" stroke-width="0.08">9</text>
<text x="408.5" y="1056.3" font-size="8.4" font-weight="normal" fill="#1a1a1a" text-anchor="middle"  stroke="#1a1a1a" stroke-width="0.08">8</text>
<text x="454.3" y="1056.3" font-size="8.4" font-weight="normal" fill="#1a1a1a" text-anchor="middle"  stroke="#1a1a1a" stroke-width="0.08">2</text>
<text x="316.9" y="1065.9" font-size="8.4" font-weight="normal" fill="#1a1a1a" text-anchor="middle"  stroke="#1a1a1a" stroke-width="0.08">87</text>
<text x="362.7" y="1065.9" font-size="8.4" font-weight="normal" fill="#1a1a1a" text-anchor="middle"  stroke="#1a1a1a" stroke-width="0.08">52</text>
<text x="408.5" y="1065.9" font-size="8.4" font-weight="normal" fill="#1a1a1a" text-anchor="middle"  stroke="#1a1a1a" stroke-width="0.08">44</text>
<text x="454.3" y="1065.9" font-size="8.4" font-weight="normal" fill="#1a1a1a" text-anchor="middle"  stroke="#1a1a1a" stroke-width="0.08">17</text>
<text x="266.4" y="837.0" font-size="18" font-weight="normal" fill="#000" text-anchor="start" textLength="12.7" lengthAdjust="spacingAndGlyphs">D</text>
<polyline points="316.9,857.5 319.4,857.5 319.6,862 320.2,870 320.6,882.5 324.6,882.5 324.8,890.2 327.5,890.2 327.7,896.9 330.4,896.9 330.6,903.7 333.3,903.7 333.5,911.3 336.3,911.3 336.5,918.1 342.5,918.1 342.7,925.4 352.3,925.4 352.5,932.5 381.3,932.5 381.5,939.0 481.9,939.0" fill="none" stroke="#2E7CC2" stroke-width="1.6" stroke-linejoin="miter" stroke-linecap="butt"/>
<polyline points="316.9,857.5 319.4,857.5 321.3,860.4 322.7,864.2 324.6,866.2 326.2,872 328.1,876.7 330,879.6 331.9,881.2 333.5,882.5 338.7,882.5 339.6,885.8 347.3,885.8 348.3,888.2 492.2,888.2" fill="none" stroke="#BB3B3D" stroke-width="1.6" stroke-linejoin="miter" stroke-linecap="butt"/>
<text x="364.9" y="903.7" font-size="9.7" font-weight="normal" fill="#C23C3E" text-anchor="start" textLength="116.3" lengthAdjust="spacingAndGlyphs" stroke="#C23C3E" stroke-width="0.2">N=87, E=17, 5-yr DFS 78.1%</text>
<text x="364.7" y="916.1" font-size="9.7" font-weight="normal" fill="#C23C3E" text-anchor="start" textLength="77.1" lengthAdjust="spacingAndGlyphs" stroke="#C23C3E" stroke-width="0.2">(95% CI 67.1-85.8)</text>
<text x="338.0" y="961.8" font-size="9.7" font-weight="normal" fill="#4858B8" text-anchor="start" textLength="110.0" lengthAdjust="spacingAndGlyphs" stroke="#4858B8" stroke-width="0.2">N=24, E=12, 5-yr DFS 40.9</text>
<text x="337.6" y="974.2" font-size="9.7" font-weight="normal" fill="#4858B8" text-anchor="start" textLength="78.5" lengthAdjust="spacingAndGlyphs" stroke="#4858B8" stroke-width="0.2">(95% CI 19.9-61.0)</text>
<text x="165.4" y="955.8" font-size="9.6" font-weight="normal" fill="#111" text-anchor="start" textLength="32.3" lengthAdjust="spacingAndGlyphs" stroke="#111" stroke-width="0.12">Disease</text>
<line x1="165.6" y1="962.4" x2="180.4" y2="962.4" stroke="#2E7CC2" stroke-width="1.5"/>
<line x1="165.6" y1="971.6" x2="180.4" y2="971.6" stroke="#BB3B3D" stroke-width="1.5"/>
<text x="186.9" y="964.9" font-size="8.0" font-weight="normal" fill="#111" text-anchor="start" textLength="12.6" lengthAdjust="spacingAndGlyphs" stroke="#111" stroke-width="0.05">ALL</text>
<text x="186.9" y="974.0" font-size="8.0" font-weight="normal" fill="#111" text-anchor="start" textLength="15.6" lengthAdjust="spacingAndGlyphs" stroke="#111" stroke-width="0.05">AML</text>
<text x="120.8" y="995.2" font-size="9.6" font-weight="normal" fill="#111" text-anchor="start" textLength="23.0" lengthAdjust="spacingAndGlyphs" stroke="#111" stroke-width="0.12">p=0.6</text>
<text x="34.2" y="1056.6" font-size="8.4" font-weight="normal" fill="#1a1a1a" text-anchor="middle" textLength="13.4" lengthAdjust="spacingAndGlyphs" stroke="#1a1a1a" stroke-width="0.08">ALL</text>
<text x="34.4" y="1065.9" font-size="8.4" font-weight="normal" fill="#1a1a1a" text-anchor="middle" textLength="15.9" lengthAdjust="spacingAndGlyphs" stroke="#1a1a1a" stroke-width="0.08">AML</text>
<text x="432.7" y="846.0" font-size="9.6" font-weight="normal" fill="#111" text-anchor="start" textLength="12.8" lengthAdjust="spacingAndGlyphs" stroke="#111" stroke-width="0.08">TBI</text>
<line x1="432.5" y1="851.6" x2="447.0" y2="851.6" stroke="#2E7CC2" stroke-width="1.5"/>
<line x1="432.5" y1="860.7" x2="447.0" y2="860.7" stroke="#BB3B3D" stroke-width="1.5"/>
<text x="450.6" y="854.5" font-size="8.8" font-weight="normal" fill="#111" text-anchor="start" textLength="12.6" lengthAdjust="spacingAndGlyphs">NO</text>
<text x="450.2" y="864.6" font-size="8.6" font-weight="normal" fill="#111" text-anchor="start" textLength="14.2" lengthAdjust="spacingAndGlyphs">YES</text>
<text x="370.4" y="880.0" font-size="9.6" font-weight="normal" fill="#111" text-anchor="start" textLength="38.8" lengthAdjust="spacingAndGlyphs" stroke="#111" stroke-width="0.12">p=0.0008</text>
<line x1="286" y1="1052.3" x2="300.2" y2="1052.3" stroke="#2E7CC2" stroke-width="1.5"/>
<line x1="286" y1="1061.4" x2="300.2" y2="1061.4" stroke="#BB3B3D" stroke-width="1.5"/>
</svg>
</body></html>
